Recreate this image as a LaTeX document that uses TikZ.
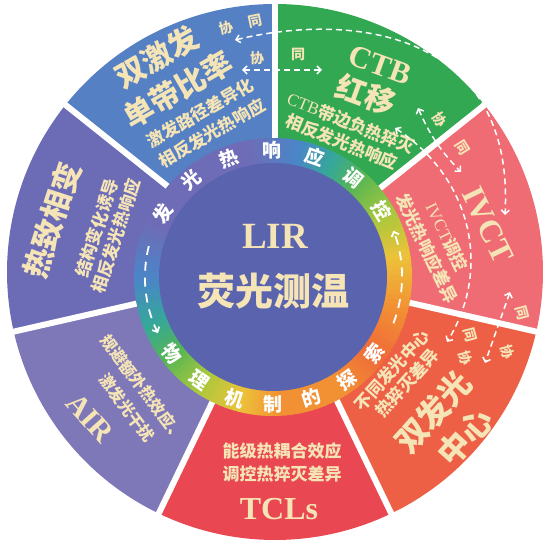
\documentclass[tikz,border=0pt]{standalone}
\usepackage{fontspec}
\setmainfont{Liberation Serif}
\newfontfamily\cjk{Noto Sans CJK SC}
\usetikzlibrary{arrows,arrows.meta,positioning}
\definecolor{cream}{HTML}{F5E4B6}
\definecolor{secblue}{HTML}{5580C3}
\definecolor{secgreen}{HTML}{33A852}
\definecolor{secpink}{HTML}{EF6C74}
\definecolor{secorange}{HTML}{ED6045}
\definecolor{secred}{HTML}{E94852}
\definecolor{seclilac}{HTML}{7F78B8}
\definecolor{secindigo}{HTML}{6B6BB6}
\definecolor{coreblue}{HTML}{5A63AE}
\definecolor{rblue}{HTML}{4A86C8}
\definecolor{rteal}{HTML}{36A79A}
\definecolor{rgreen}{HTML}{55B555}
\definecolor{rlime}{HTML}{A8C83C}
\definecolor{ryellow}{HTML}{EDC23A}
\definecolor{rorange}{HTML}{F29133}
\definecolor{rred}{HTML}{EE6B38}
\definecolor{rpurple}{HTML}{6E6CB6}
\tikzstyle{headline}=[
	text=cream,
	font=\cjk\bfseries\fontsize{30}{30}\selectfont,
	inner sep=0pt
]
\tikzstyle{remark}=[
	text=cream,
	font=\cjk\bfseries\fontsize{17}{17}\selectfont,
	inner sep=0pt
]
\tikzstyle{acronym}=[
	text=cream,
	font=\bfseries\fontsize{31}{31}\selectfont,
	inner sep=0pt
]
\tikzstyle{tag}=[
	text=cream,
	font=\cjk\bfseries\fontsize{14}{14}\selectfont,
	inner sep=0pt
]
\tikzstyle{ringchar}=[
	text=white,
	font=\cjk\bfseries\fontsize{19}{19}\selectfont,
	inner sep=0pt
]
\tikzstyle{divider}=[
	white,
	line width=6pt
]
\tikzstyle{synergy}=[
	<->,
	>={Straight Barb[length=4pt,width=8pt]},
	white,
	dash pattern=on 6pt off 4pt,
	line width=1.5pt
]
\tikzstyle{cyclearrow}=[
	->,
	>={Straight Barb[length=4pt,width=8pt]},
	white,
	dash pattern=on 9pt off 7pt,
	line width=1.8pt
]

\begin{document}
\begin{tikzpicture}[x=1pt,y=1pt]
\useasboundingbox (-275,-273) rectangle (270,272);
\coordinate (ringc) at (-2,-5);

\foreach \s/\c in {90/secblue,38.57/secgreen,-12.86/secpink,-64.29/secorange,-115.71/secred,-167.14/seclilac,141.43/secindigo}
	\fill[\c] (0,0) -- (\s:268) arc[start angle=\s,delta angle=51.43,radius=268] -- cycle;
\foreach \s in {90,38.57,-12.86,-64.29,-115.71,-167.14,141.43}
	\draw[divider] (\s:125) -- (\s:272);

\foreach \a/\b/\ca/\cb in {-180/-160/rblue/rteal,-160/-143/rteal/rgreen,-143/-125/rgreen/rlime,-125/-105/rlime/ryellow,-105/-88/ryellow/rorange,-88/-60/rorange/rorange,-60/-38/rorange/rred,-38/-15/rred/rorange,-15/8/rorange/ryellow,8/28/ryellow/rlime,28/48/rlime/rgreen,48/62/rgreen/rteal,62/78/rteal/rblue,78/100/rblue/rpurple,100/155/rpurple/rpurple,155/180/rpurple/rblue}{
	\foreach \k in {0,...,9}{
		\pgfmathsetmacro\st{\a+((\b)-(\a))*\k/10}
		\pgfmathsetmacro\dl{((\b)-(\a))/10+0.8}
		\pgfmathtruncatemacro\pc{100-10*\k}
		\fill[fill={\ca!\pc!\cb}] (ringc) -- ++(\st:139) arc[start angle=\st,delta angle=\dl,radius=139] -- cycle;
	}
}
\node[circle,fill=coreblue,minimum size=228pt,inner sep=0pt] (core) at (ringc) {};
\node[acronym,font=\bfseries\fontsize{37}{37}\selectfont] (lir) at (0,36) {LIR};
\node[headline,font=\cjk\bfseries\fontsize{38}{38}\selectfont] (thermo) at (-2,-19) {荧光测温};

\foreach \ch [count=\i] in {发,光,热,响,应,调,控}
	\node[ringchar,rotate={60-19.8*(\i-1)}] (up\i) at ([shift={({150-19.8*(\i-1)}:127)}]ringc) {\ch};
\foreach \ch [count=\i] in {物,理,机,制,的,探,索}
	\node[ringchar,rotate={-53+17.7*(\i-1)}] (low\i) at ([shift={({-143+17.7*(\i-1)}:127)}]ringc) {\ch};
\coordinate (cwl) at ([shift={(166:128)}]ringc);
\coordinate (cwr) at ([shift={(-21:129)}]ringc);
\draw[cyclearrow] (cwl) arc[start angle=166,end angle=206,radius=128];
\draw[cyclearrow] (cwr) arc[start angle=-21,end angle=21,radius=129];

\node[headline,rotate=30] (dualexc) at (-118,215) {双激发};
\node[headline,rotate=30] (ratio) at (-97,182) {单带比率};
\node[remark,rotate=30] (dualexcA) at (-75,159) {激发路径差异化};
\node[remark,rotate=30] (dualexcB) at (-63,139) {相反发光热响应};

\node[acronym,rotate=-20] (ctb) at (105,207) {CTB};
\node[headline,rotate=-20] (redshift) at (91,177) {红移};
\node[remark,rotate=-22] (ctbA) at (76,149) {{\rmfamily\mdseries CTB}带边负热猝灭};
\node[remark,rotate=-22] (ctbB) at (67,130) {相反发光热响应};

\node[acronym,rotate=-64,font=\bfseries\fontsize{32}{32}\selectfont] (ivct) at (213,47) {IVCT};
\node[remark,rotate=-64] (ivctA) at (172,35) {{\rmfamily\mdseries IVCT}调控};
\node[remark,rotate=-64] (ivctB) at (152,24) {发光热响应差异};

\node[remark,rotate=48] (dualemA) at (117,-98) {不同发光中心};
\node[remark,rotate=48] (dualemB) at (132,-111) {热猝灭差异};
\node[headline,rotate=48,font=\cjk\bfseries\fontsize{32}{32}\selectfont] (dualem) at (158,-140) {双发光};
\node[headline,rotate=48,font=\cjk\bfseries\fontsize{32}{32}\selectfont] (centre) at (190,-165) {中心};

\node[remark] (tclA) at (7,-179) {能级热耦合效应};
\node[remark] (tclB) at (7,-202) {调控热猝灭差异};
\node[acronym,font=\bfseries\fontsize{32}{32}\selectfont] (tcl) at (4,-237) {TCLs};

\node[remark,rotate=-53,font=\cjk\bfseries\fontsize{16}{16}\selectfont] (airA) at (-132,-116) {规避额外热效应、};
\node[remark,rotate=-53,font=\cjk\bfseries\fontsize{16}{16}\selectfont] (airB) at (-148,-136) {激发光干扰};
\node[acronym,rotate=-48,font=\bfseries\fontsize{30}{30}\selectfont] (air) at (-185,-146) {AIR};

\node[headline,rotate=72] (phase) at (-223,52) {热致相变};
\node[remark,rotate=72] (phaseA) at (-178,44) {结构变化诱导};
\node[remark,rotate=72] (phaseB) at (-159,36) {相反发光热响应};

\coordinate (ta1) at (-40,232);
\coordinate (ta2) at (230,57);
\coordinate (tb1) at (-33,202);
\coordinate (tb2) at (47,202);
\coordinate (aa1) at (143,164);
\coordinate (aa2) at (186,100);
\coordinate (ba1) at (120,144);
\coordinate (ba2) at (172,-70);
\coordinate (ca1) at (235,-20);
\coordinate (ca2) at (210,-91);
\draw[synergy] (ta1) .. controls (75,260) and (240,242) .. (ta2);
\draw[synergy] (tb1) -- (tb2);
\draw[synergy] (aa1) to[bend right=10] (aa2);
\draw[synergy] (ba1) .. controls (195,95) and (218,5) .. (ba2);
\draw[synergy] (ca1) -- (ca2);

\node[tag,rotate=12] (xieA) at (-49,244) {协};
\node[tag,rotate=12] (tongA) at (-20,251) {同};
\node[tag] (xieB) at (-18,214) {协};
\node[tag] (tongB) at (23,217) {同};
\node[tag,rotate=-58] (xieC) at (165,152) {协};
\node[tag,rotate=-58] (tongC) at (187,124) {同};
\node[tag,rotate=-75] (tongD) at (195,-63) {同};
\node[tag,rotate=-75] (xieD) at (190,-86) {协};
\node[tag,rotate=-75] (tongE) at (247,-41) {同};
\node[tag,rotate=-75] (xieE) at (232,-80) {协};
\end{tikzpicture}
\end{document}
